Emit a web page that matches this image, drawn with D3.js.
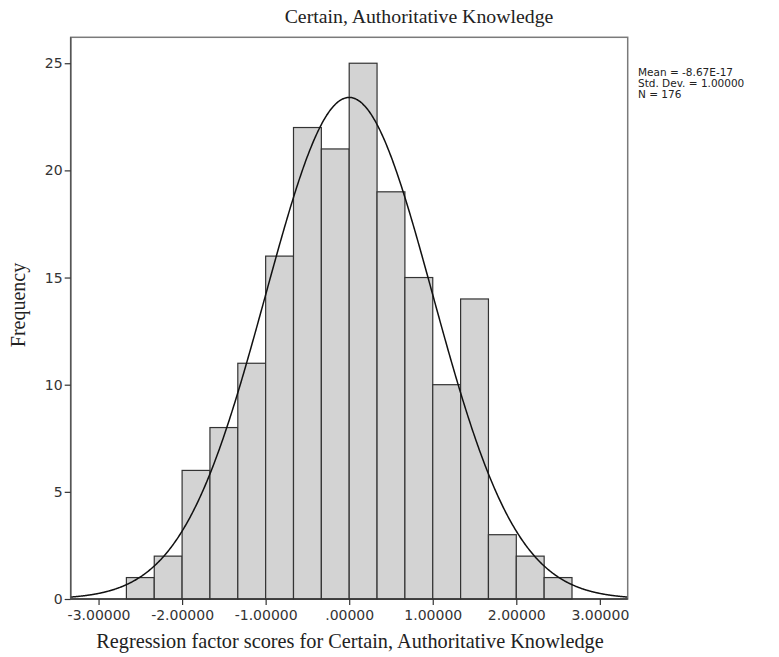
<!DOCTYPE html>
<html>
<head>
<meta charset="utf-8">
<script src="https://cdn.jsdelivr.net/npm/d3@7"></script>
<style>
  body { margin: 0; background: #fff; }
  svg { display: block; }
</style>
</head>
<body>
<svg id="chart" width="779" height="657"></svg>
<script>
// Histogram bins (lower edges, width = 1/3) and frequencies
const binStarts = [-8, -7, -6, -5, -4, -3, -2, -1, 0, 1, 2, 3, 4, 5, 6, 7].map(k => k / 3);
const binWidth = 1 / 3;
const counts = [1, 2, 6, 8, 11, 16, 22, 21, 25, 19, 15, 10, 14, 3, 2, 1];

// Summary statistics shown beside the plot
const stats = { mean: -8.67e-17, sd: 1.0, n: 176 };
const legendLines = ["Mean = -8.67E-17", "Std. Dev. = 1.00000", "N = 176"];

// Axis ticks
const xTicks = [-3, -2, -1, 0, 1, 2, 3];
const xTickLabels = ["-3.00000", "-2.00000", "-1.00000", ".00000", "1.00000", "2.00000", "3.00000"];
const yTicks = [0, 5, 10, 15, 20, 25];

const svg = d3.select("#chart");
const plotL = 70.7, plotR = 627.7, plotT = 37.3, plotB = 599;

const x = d3.scaleLinear().domain([-10 / 3, 10 / 3]).range([plotL, plotR]);
const y = d3.scaleLinear().domain([0, 26.21]).range([plotB, plotT]);

// Frame
svg.append("rect")
  .attr("x", plotL).attr("y", plotT)
  .attr("width", plotR - plotL).attr("height", plotB - plotT)
  .attr("fill", "#fff").attr("stroke", "#7a7a7a").attr("stroke-width", 1.5);

// Bars
svg.append("g").selectAll("rect")
  .data(counts.map((c, i) => ({ x0: binStarts[i], c })))
  .join("rect")
  .attr("x", d => x(d.x0))
  .attr("y", d => y(d.c))
  .attr("width", d => x(d.x0 + binWidth) - x(d.x0))
  .attr("height", d => y(0) - y(d.c))
  .attr("fill", "#d3d3d3")
  .attr("stroke", "#333")
  .attr("stroke-width", 1.2);

// Normal curve scaled to counts
const scale = stats.n * binWidth;
const pts = d3.range(-10 / 3, 10 / 3 + 1e-9, 0.01).map(v => [v,
  scale * Math.exp(-0.5 * Math.pow((v - stats.mean) / stats.sd, 2)) / (stats.sd * Math.sqrt(2 * Math.PI))]);
svg.append("path")
  .datum(pts)
  .attr("d", d3.line().x(d => x(d[0])).y(d => y(d[1])).curve(d3.curveBasis))
  .attr("fill", "none")
  .attr("stroke", "#111")
  .attr("stroke-width", 1.5);

// X axis
const xAxis = svg.append("g")
  .attr("transform", `translate(0,${plotB})`)
  .call(d3.axisBottom(x).tickValues(xTicks).tickSize(6).tickPadding(5)
    .tickFormat((d, i) => xTickLabels[i]));
xAxis.select(".domain").attr("stroke", "#333").attr("stroke-width", 1.5)
  .attr("d", `M${plotL},0H${plotR}`);
xAxis.selectAll(".tick line").attr("stroke", "#333").attr("stroke-width", 1.2);
xAxis.selectAll(".tick text")
  .attr("font-family", "DejaVu Sans, sans-serif").attr("font-size", 14).attr("fill", "#333");

// Y axis
const yAxis = svg.append("g")
  .attr("transform", `translate(${plotL},0)`)
  .call(d3.axisLeft(y).tickValues(yTicks).tickSize(6).tickPadding(2));
yAxis.select(".domain").attr("stroke", "#555").attr("stroke-width", 1.5)
  .attr("d", `M0,${plotB}V${plotT}`);
yAxis.selectAll(".tick line").attr("stroke", "#333").attr("stroke-width", 1.2);
yAxis.selectAll(".tick text")
  .attr("font-family", "DejaVu Sans, sans-serif").attr("font-size", 14).attr("fill", "#333");

// Title and axis titles
svg.append("text")
  .attr("x", 419).attr("y", 23)
  .attr("text-anchor", "middle")
  .attr("font-family", "Liberation Serif, serif").attr("font-size", 19.8).attr("fill", "#222")
  .text("Certain, Authoritative Knowledge");

svg.append("text")
  .attr("x", 350).attr("y", 648)
  .attr("text-anchor", "middle")
  .attr("font-family", "Liberation Serif, serif").attr("font-size", 20.3).attr("fill", "#222")
  .text("Regression factor scores for Certain, Authoritative Knowledge");

svg.append("text")
  .attr("transform", "translate(25,305) rotate(-90)")
  .attr("text-anchor", "middle")
  .attr("font-family", "Liberation Serif, serif").attr("font-size", 20).attr("fill", "#222")
  .text("Frequency");

// Statistics block
svg.append("g").selectAll("text")
  .data(legendLines)
  .join("text")
  .attr("x", 638)
  .attr("y", (d, i) => 76 + i * 11)
  .attr("font-family", "DejaVu Sans, sans-serif").attr("font-size", 10.5).attr("fill", "#222")
  .text(d => d);
</script>
</body>
</html>
